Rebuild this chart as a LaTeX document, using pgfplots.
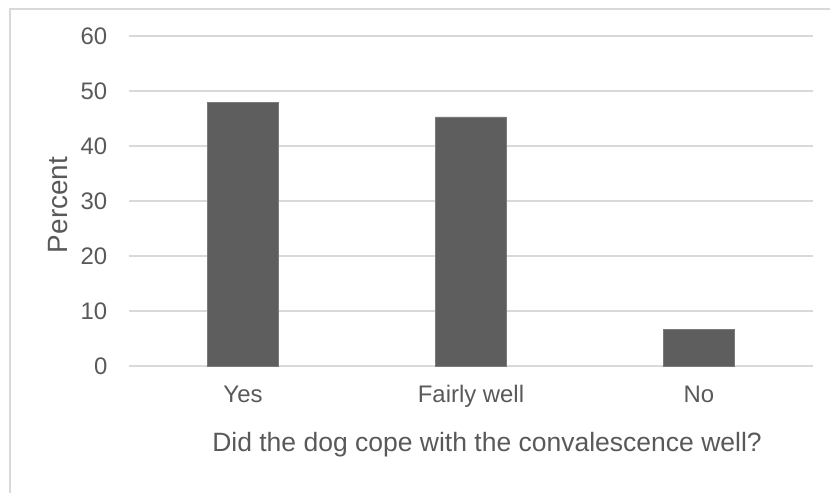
\documentclass[border=0pt]{standalone}
\usepackage{fontspec}
\setmainfont{Liberation Sans}
\usepackage{pgfplots}
\pgfplotsset{compat=1.18}
\definecolor{barc}{HTML}{5E5E5E}
\definecolor{baredge}{HTML}{7A7A7A}
\definecolor{gridc}{HTML}{D9D9D9}
\definecolor{txt}{HTML}{595959}
\begin{document}
\begin{tikzpicture}
\useasboundingbox (-129bp,-127bp) rectangle (701bp,366bp);
\draw[gridc, line width=1.3bp] (-119bp,-140bp) -- (-119bp,357bp) -- (715bp,357bp);
\begin{axis}[
  at={(0,0)}, anchor=south west,
  scale only axis, width=684bp, height=330bp,
  xmin=-0.5, xmax=2.5, ymin=0, ymax=60,
  xtick=data, xticklabels={Yes, Fairly well, No},
  ytick={0,10,...,60},
  axis line style={draw=none},
  major tick length=0pt,
  ymajorgrids, grid style={gridc, line width=1.3bp},
  /pgf/number format/assume math mode=true,
  ticklabel style={text=txt, font=\fontsize{24}{28}\selectfont},
  yticklabel style={anchor=east, inner sep=0pt, xshift=-21.5bp},
  xticklabel style={anchor=base, inner sep=0pt, yshift=-36bp},
  xlabel={Did the dog cope with the convalescence well?},
  xlabel style={at={(axis description cs:0.5234,-0.2576)}, anchor=base, inner sep=0pt, text=txt, font=\fontsize{26.6}{30}\selectfont},
  ylabel={Percent},
  ylabel style={at={(axis description cs:-0.0896,0.4879)}, anchor=base, inner sep=0pt, text=txt, font=\fontsize{28}{32}\selectfont},
  clip=false,
]
\addplot[ybar, bar width=0.311, fill=barc, draw=baredge, line width=0.6bp] coordinates {(0,47.9) (1,45.3) (2,6.6)};
\end{axis}
\end{tikzpicture}
\end{document}
